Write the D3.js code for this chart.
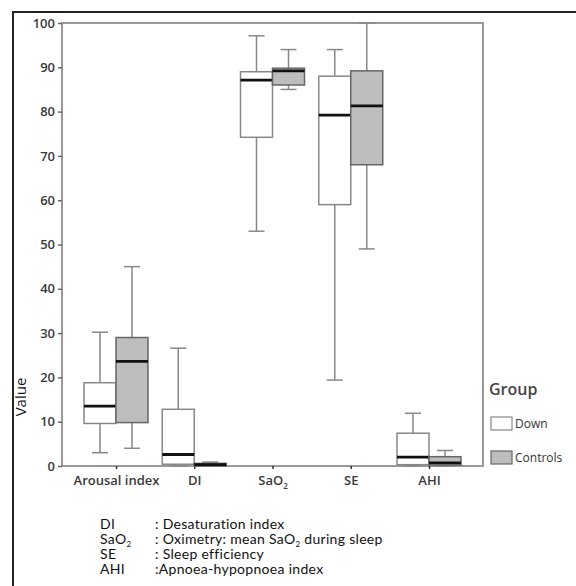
<!DOCTYPE html>
<html>
<head>
<meta charset="utf-8">
<script src="https://cdn.jsdelivr.net/npm/d3@7"></script>
<style>
  body { margin: 0; background: #fff; }
  svg { display: block; }
</style>
</head>
<body>
<div id="chart"></div>
<script>
// categories along the x axis
const categories = ["Arousal index", "DI", "SaO2", "SE", "AHI"];
const groups = ["Down", "Controls"];

// [min, q1, median, q3, max] per category
const downBoxes = [
  [3, 9.6, 13.5, 18.8, 30.2],
  [0, 0.4, 2.6, 12.8, 26.6],
  [53, 74.2, 87.1, 89, 97.1],
  [19.4, 59, 79.2, 88, 94],
  [0, 0.3, 2, 7.4, 11.9]
];
const controlBoxes = [
  [4, 9.8, 23.6, 29, 45],
  [0, 0, 0.3, 0.6, 0.9],
  [85, 86, 89.2, 89.8, 94],
  [49, 68, 81.3, 89.2, 100],
  [0, 0.2, 0.7, 2.1, 3.5]
];

const yTicks = [0, 10, 20, 30, 40, 50, 60, 70, 80, 90, 100];

const footAbbr = ["DI", "SaO2", "SE", "AHI"];
const footText = [": Desaturation index", ": Oximetry: mean SaO2 during sleep", ": Sleep efficiency", ":Apnoea-hypopnoea index"];

const width = 576, height = 586;
const plot = { left: 62, right: 483, top: 23, bottom: 466 };
const boxW = 32;

const svg = d3.select("#chart").append("svg")
  .attr("width", width)
  .attr("height", height);

// outer frame (top + left only visible)
svg.append("path")
  .attr("d", "M13,586 V12 H576")
  .attr("fill", "none")
  .attr("stroke", "#222")
  .attr("stroke-width", 2);

let x = d3.scalePoint()
  .domain(categories)
  .range([plot.left, plot.right])
  .padding(0.69);

let y = d3.scaleLinear()
  .domain([0, 100])
  .range([plot.bottom, plot.top]);

// plot frame
svg.append("rect")
  .attr("x", plot.left)
  .attr("y", plot.top)
  .attr("width", plot.right - plot.left)
  .attr("height", plot.bottom - plot.top)
  .attr("fill", "none")
  .attr("stroke", "#999")
  .attr("stroke-width", 2);

// y axis
let yAxis = svg.append("g")
  .attr("transform", "translate(" + plot.left + ",0)")
  .call(d3.axisLeft(y).tickValues(yTicks).tickSize(4).tickPadding(3));
yAxis.select(".domain").remove();
yAxis.selectAll("line").attr("stroke", "#666").attr("stroke-width", 1.5);
yAxis.selectAll("text")
  .attr("fill", "#3a3a3a")
  .style("font-family", "'Open Sans', sans-serif")
  .style("font-weight", "600")
  .style("font-size", "13px");

// x axis
let xAxis = svg.append("g")
  .attr("transform", "translate(0," + plot.bottom + ")")
  .call(d3.axisBottom(x).tickSize(3).tickPadding(7));
xAxis.select(".domain").remove();
xAxis.selectAll("line").attr("stroke", "#333").attr("stroke-width", 1.5);
xAxis.selectAll("text")
  .attr("fill", "#3a3a3a")
  .style("font-family", "'Open Sans', sans-serif")
  .style("font-weight", "600")
  .style("font-size", "13px")
  .each(function (d) {
    let t = d3.select(this);
    if (d === "SaO2") {
      t.text("SaO");
      t.append("tspan").attr("dy", 4).style("font-size", "8px").text("2");
    }
  });

// y label
svg.append("text")
  .attr("transform", "translate(26,397) rotate(-90)")
  .attr("text-anchor", "middle")
  .attr("fill", "#111")
  .style("font-family", "'Open Sans', sans-serif")
  .style("font-size", "15px")
  .text("Value");

// boxes
const series = [
  { name: "Down", boxes: downBoxes, offset: -boxW, fill: "#fff", stroke: "#888" },
  { name: "Controls", boxes: controlBoxes, offset: 0, fill: "#bdbdbd", stroke: "#666" }
];

series.forEach(function (s) {
  let g = svg.append("g");
  s.boxes.forEach(function (b, i) {
    let x0 = x(categories[i]) + s.offset;
    let cx = x0 + boxW / 2;
    // whiskers
    g.append("line")
      .attr("x1", cx).attr("x2", cx)
      .attr("y1", y(b[4])).attr("y2", y(b[3]))
      .attr("stroke", "#888").attr("stroke-width", 1.5);
    g.append("line")
      .attr("x1", cx).attr("x2", cx)
      .attr("y1", y(b[1])).attr("y2", y(b[0]))
      .attr("stroke", "#888").attr("stroke-width", 1.5);
    // caps
    g.append("line")
      .attr("x1", cx - boxW / 4).attr("x2", cx + boxW / 4)
      .attr("y1", y(b[4])).attr("y2", y(b[4]))
      .attr("stroke", "#888").attr("stroke-width", 1.5);
    g.append("line")
      .attr("x1", cx - boxW / 4).attr("x2", cx + boxW / 4)
      .attr("y1", y(b[0])).attr("y2", y(b[0]))
      .attr("stroke", "#888").attr("stroke-width", 1.5);
    // box
    g.append("rect")
      .attr("x", x0)
      .attr("y", y(b[3]))
      .attr("width", boxW)
      .attr("height", Math.max(1, y(b[1]) - y(b[3])))
      .attr("fill", s.fill)
      .attr("stroke", s.stroke)
      .attr("stroke-width", 1.5);
    // median
    g.append("line")
      .attr("x1", x0).attr("x2", x0 + boxW)
      .attr("y1", y(b[2])).attr("y2", y(b[2]))
      .attr("stroke", "#111").attr("stroke-width", 2.8);
  });
});

// legend
let legend = svg.append("g");
legend.append("text")
  .attr("x", 489).attr("y", 395)
  .attr("fill", "#444")
  .style("font-family", "'Open Sans', sans-serif")
  .style("font-weight", "600")
  .style("font-size", "16px")
  .text("Group");

series.forEach(function (s, i) {
  let ly = 417 + i * 34;
  legend.append("rect")
    .attr("x", 491).attr("y", ly)
    .attr("width", 21).attr("height", 13)
    .attr("fill", s.fill)
    .attr("stroke", s.stroke)
    .attr("stroke-width", 1.2);
  legend.append("text")
    .attr("x", 515).attr("y", ly + 11)
    .attr("fill", "#333")
    .style("font-family", "'Open Sans', sans-serif")
    .style("font-size", "12px")
    .text(s.name);
});

// footnote
let foot = svg.append("g")
  .style("font-family", "Lato, sans-serif")
  .style("font-size", "14px")
  .style("letter-spacing", "0.3px")
  .attr("fill", "#111");

footAbbr.forEach(function (a, i) {
  let by = 529 + i * 15;
  let t1 = foot.append("text").attr("x", 100).attr("y", by);
  if (a === "SaO2") {
    t1.text("SaO");
    t1.append("tspan").attr("dy", 3).style("font-size", "8px").text("2");
  } else {
    t1.text(a);
  }
  let t2 = foot.append("text").attr("x", 155).attr("y", by);
  let txt = footText[i];
  if (txt.indexOf("SaO2") >= 0) {
    let parts = txt.split("SaO2");
    t2.append("tspan").text(parts[0] + "SaO");
    t2.append("tspan").attr("dy", 3).style("font-size", "8px").text("2");
    t2.append("tspan").attr("dy", -3).text(parts[1]);
  } else {
    t2.text(txt);
  }
});
</script>
</body>
</html>
